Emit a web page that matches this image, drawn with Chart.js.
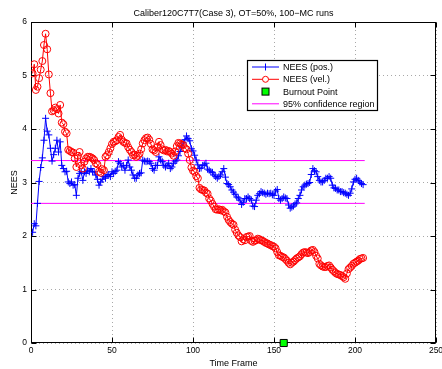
<!DOCTYPE html>
<html>
<head>
<meta charset="utf-8">
<script src="https://cdn.jsdelivr.net/npm/chart.js@4.4.1/dist/chart.umd.min.js"></script>
<style>
  html, body { margin: 0; padding: 0; background: #fff; }
  #chart { display: block; }
</style>
</head>
<body>
<canvas id="chart" width="442" height="369"></canvas>
<script>
// NEES per time frame (frames 1..205)
var neesPos = [
	2.07, 2.23, 2.19, 2.61, 3.02, 3.28, 3.46, 3.79, 4.20, 3.96,
	3.89, 3.64, 3.40, 3.52, 3.64, 3.79, 3.57, 3.76, 3.32, 3.26,
	3.20, 3.21, 3.01, 2.98, 3.01, 2.95, 2.96, 2.76, 3.08, 3.17,
	3.20, 3.04, 3.20, 3.17, 3.23, 3.20, 3.26, 3.20, 3.20, 3.14,
	3.06, 2.95, 3.01, 3.06, 3.11, 3.08, 3.14, 3.15, 3.11, 3.20,
	3.17, 3.21, 3.23, 3.39, 3.36, 3.29, 3.32, 3.23, 3.32, 3.42,
	3.29, 3.23, 3.14, 3.08, 3.08, 3.14, 3.17, 3.18, 3.42, 3.40,
	3.39, 3.40, 3.39, 3.36, 3.26, 3.23, 3.32, 3.32, 3.48, 3.42,
	3.39, 3.32, 3.29, 3.32, 3.36, 3.26, 3.29, 3.36, 3.40, 3.42,
	3.50, 3.58, 3.66, 3.74, 3.80, 3.87, 3.82, 3.78, 3.63, 3.59,
	3.51, 3.42, 3.33, 3.26, 3.27, 3.32, 3.33, 3.36, 3.25, 3.23,
	3.20, 3.19, 3.14, 3.11, 3.08, 3.11, 3.14, 3.20, 3.26, 3.10,
	2.98, 2.96, 2.92, 2.86, 2.82, 2.78, 2.73, 2.71, 2.67, 2.59,
	2.63, 2.70, 2.70, 2.73, 2.70, 2.67, 2.56, 2.55, 2.67, 2.76,
	2.79, 2.83, 2.81, 2.80, 2.78, 2.80, 2.79, 2.80, 2.77, 2.76,
	2.84, 2.87, 2.70, 2.67, 2.70, 2.73, 2.71, 2.70, 2.58, 2.52,
	2.54, 2.56, 2.60, 2.62, 2.70, 2.76, 2.86, 2.92, 2.95, 2.97,
	2.98, 3.00, 3.15, 3.26, 3.22, 3.20, 3.11, 3.04, 3.01, 3.01,
	3.04, 3.08, 3.08, 3.11, 3.08, 2.95, 2.90, 2.89, 2.86, 2.86,
	2.83, 2.83, 2.81, 2.80, 2.78, 2.76, 2.80, 2.88, 3.01, 3.06,
	3.08, 3.04, 3.01, 2.98, 2.96
];
var neesVel = [
	5.04, 5.21, 4.73, 4.79, 4.95, 5.11, 5.27, 5.57, 5.78, 5.49,
	5.02, 4.67, 4.33, 4.35, 4.40, 4.37, 4.29, 4.45, 4.12, 4.09,
	3.95, 3.92, 3.61, 3.59, 3.57, 3.56, 3.45, 3.29, 3.50, 3.57,
	3.32, 3.26, 3.39, 3.45, 3.48, 3.48, 3.47, 3.45, 3.42, 3.36,
	3.34, 3.20, 3.18, 3.25, 3.23, 3.48, 3.51, 3.57, 3.64, 3.72,
	3.76, 3.77, 3.79, 3.85, 3.89, 3.80, 3.76, 3.74, 3.73, 3.66,
	3.61, 3.57, 3.51, 3.52, 3.48, 3.50, 3.54, 3.62, 3.73, 3.79,
	3.83, 3.84, 3.80, 3.72, 3.62, 3.60, 3.57, 3.66, 3.76, 3.70,
	3.62, 3.60, 3.61, 3.58, 3.59, 3.57, 3.54, 3.50, 3.58, 3.68,
	3.74, 3.73, 3.71, 3.70, 3.64, 3.62, 3.54, 3.42, 3.28, 3.22,
	3.20, 3.12, 3.08, 2.90, 2.87, 2.86, 2.85, 2.81, 2.79, 2.70,
	2.66, 2.60, 2.55, 2.50, 2.49, 2.50, 2.48, 2.49, 2.46, 2.44,
	2.36, 2.30, 2.26, 2.23, 2.21, 2.12, 2.06, 2.01, 1.98, 1.90,
	1.94, 1.92, 1.98, 1.99, 2.00, 1.91, 1.89, 1.91, 1.92, 1.95,
	1.94, 1.92, 1.91, 1.89, 1.87, 1.86, 1.84, 1.83, 1.81, 1.80,
	1.77, 1.70, 1.64, 1.63, 1.61, 1.60, 1.57, 1.54, 1.50, 1.47,
	1.50, 1.52, 1.55, 1.58, 1.60, 1.62, 1.66, 1.69, 1.70, 1.69,
	1.68, 1.70, 1.73, 1.74, 1.70, 1.63, 1.58, 1.48, 1.45, 1.43,
	1.42, 1.42, 1.44, 1.45, 1.41, 1.37, 1.34, 1.31, 1.29, 1.28,
	1.27, 1.25, 1.23, 1.20, 1.30, 1.38, 1.41, 1.44, 1.48, 1.50,
	1.52, 1.54, 1.57, 1.58, 1.59
];
var confSpan = [0, 206];
var confUpper = 3.41;
var confLower = 2.61;
var burnout = [156, 0];
var xTicks = [0, 50, 100, 150, 200, 250];
var yTicks = [0, 1, 2, 3, 4, 5, 6];

var FONT = '"Liberation Sans", Arial, Helvetica, sans-serif';

function toPoints(values) {
	return values.map(function (v, i) { return { x: i + 1, y: v }; });
}
function hLine(v) {
	return confSpan.map(function (x) { return { x: x, y: v }; });
}

// MATLAB-like frame: box, inward ticks, titles, legend inside the axes
var matlabFrame = {
	id: 'matlabFrame',
	beforeDatasetsDraw: function (chart) {
		var ctx = chart.ctx, a = chart.chartArea;
		var xs = chart.scales.x, ys = chart.scales.y;
		var L = Math.round(a.left) + 0.5, R = Math.round(a.right) - 0.5;
		var T = Math.round(a.top) + 0.5, B = Math.round(a.bottom) - 0.5;
		ctx.save();
		ctx.strokeStyle = '#000';
		ctx.lineWidth = 1;
		ctx.strokeRect(L, T, R - L, B - T);
		ctx.beginPath();
		xTicks.forEach(function (t) {
			var px = Math.round(xs.getPixelForValue(t)) + 0.5;
			ctx.moveTo(px, B); ctx.lineTo(px, B - 5);
			ctx.moveTo(px, T); ctx.lineTo(px, T + 5);
		});
		yTicks.forEach(function (t) {
			var py = Math.round(ys.getPixelForValue(t)) + 0.5;
			ctx.moveTo(L, py); ctx.lineTo(L + 5, py);
			ctx.moveTo(R, py); ctx.lineTo(R - 5, py);
		});
		ctx.stroke();

		ctx.fillStyle = '#000';
		ctx.font = '9px ' + FONT;
		ctx.textAlign = 'center';
		ctx.textBaseline = 'alphabetic';
		ctx.fillText('Caliber120C7T7(Case 3), OT=50%, 100\u2212MC runs', (a.left + a.right) / 2, 16);
		ctx.fillText('Time Frame', (a.left + a.right) / 2, 365.5);
		ctx.translate(16.5, (a.top + a.bottom) / 2);
		ctx.rotate(-Math.PI / 2);
		ctx.fillText('NEES', 0, 0);
		ctx.restore();
	},
	afterDatasetsDraw: function (chart) {
		var ctx = chart.ctx;
		var bx = 247.5, by = 60.5, bw = 130, bh = 50;
		ctx.save();
		ctx.fillStyle = '#fff';
		ctx.fillRect(bx, by, bw, bh);
		ctx.strokeStyle = '#000';
		ctx.lineWidth = 1.2;
		ctx.strokeRect(bx, by, bw, bh);

		var rows = [67, 79.3, 91.6, 103.8];
		var x0 = 252, x1 = 279, xm = 265.5;
		ctx.lineWidth = 1;
		// pos
		ctx.strokeStyle = '#0000ff';
		ctx.beginPath();
		ctx.moveTo(x0, rows[0]); ctx.lineTo(x1, rows[0]);
		ctx.moveTo(xm, rows[0] - 3.5); ctx.lineTo(xm, rows[0] + 3.5);
		ctx.stroke();
		// vel
		ctx.strokeStyle = '#ff0000';
		ctx.beginPath();
		ctx.moveTo(x0, rows[1]); ctx.lineTo(x1, rows[1]);
		ctx.stroke();
		ctx.fillStyle = '#fff';
		ctx.beginPath();
		ctx.arc(xm, rows[1], 3, 0, Math.PI * 2);
		ctx.fill();
		ctx.stroke();
		// burnout
		ctx.fillStyle = '#00ff00';
		ctx.strokeStyle = '#000';
		ctx.fillRect(xm - 3.5, rows[2] - 3.5, 7, 7);
		ctx.strokeRect(xm - 3.5, rows[2] - 3.5, 7, 7);
		// conf
		ctx.strokeStyle = '#ff00ff';
		ctx.beginPath();
		ctx.moveTo(x0, rows[3]); ctx.lineTo(x1, rows[3]);
		ctx.stroke();

		ctx.fillStyle = '#000';
		ctx.font = '9px ' + FONT;
		ctx.textAlign = 'left';
		ctx.textBaseline = 'middle';
		['NEES (pos.)', 'NEES (vel.)', 'Burnout Point', '95% confidence region'].forEach(function (s, i) {
			ctx.fillText(s, 283, rows[i] + 0.5);
		});
		ctx.restore();
	}
};

new Chart(document.getElementById('chart'), {
	type: 'line',
	data: {
		datasets: [{
			label: 'NEES (vel.)',
			data: toPoints(neesVel),
			borderColor: '#ff0000',
			borderWidth: 1,
			pointStyle: 'circle',
			pointRadius: 3.5,
			pointBorderWidth: 1,
			pointBorderColor: '#ff0000',
			pointBackgroundColor: 'rgba(0,0,0,0)',
			order: 1
		}, {
			label: 'NEES (pos.)',
			data: toPoints(neesPos),
			borderColor: '#0000ff',
			borderWidth: 1,
			pointStyle: 'cross',
			pointRadius: 3.5,
			pointBorderWidth: 1,
			pointBorderColor: '#0000ff',
			order: 2
		}, {
			label: '95% confidence region',
			data: hLine(confUpper),
			borderColor: '#ff00ff',
			borderWidth: 1,
			pointRadius: 0,
			order: 3
		}, {
			label: '95% lower',
			data: hLine(confLower),
			borderColor: '#ff00ff',
			borderWidth: 1,
			pointRadius: 0,
			order: 3
		}, {
			label: 'Burnout Point',
			data: [{ x: burnout[0], y: burnout[1] }],
			showLine: false,
			pointStyle: 'rect',
			pointRadius: 5,
			pointBorderWidth: 1,
			pointBorderColor: '#000',
			pointBackgroundColor: '#00ff00',
			clip: false,
			order: 0
		}]
	},
	options: {
		responsive: false,
		animation: false,
		events: [],
		layout: { padding: { top: 22, right: 5, left: 0, bottom: 0 } },
		plugins: {
			legend: { display: false },
			title: { display: false },
			tooltip: { enabled: false }
		},
		scales: {
			x: {
				type: 'linear',
				min: 0,
				max: 250,
				ticks: {
					stepSize: 50,
					padding: 3,
					color: '#000',
					font: { family: FONT, size: 8.5 },
					maxRotation: 0
				},
				grid: { color: '#a8a8a8', drawTicks: false },
				border: { display: false, dash: [1, 3] },
				afterFit: function (s) {
					s.height = 26;
					s.paddingLeft = 0;
					s.paddingRight = 0;
				}
			},
			y: {
				min: 0,
				max: 6,
				ticks: {
					stepSize: 1,
					padding: 4,
					color: '#000',
					font: { family: FONT, size: 8.5 }
				},
				grid: { color: '#a8a8a8', drawTicks: false },
				border: { display: false, dash: [1, 3] },
				afterFit: function (s) {
					s.width = 31;
					s.paddingTop = 0;
					s.paddingBottom = 0;
				}
			}
		}
	},
	plugins: [matlabFrame]
});
</script>
</body>
</html>
